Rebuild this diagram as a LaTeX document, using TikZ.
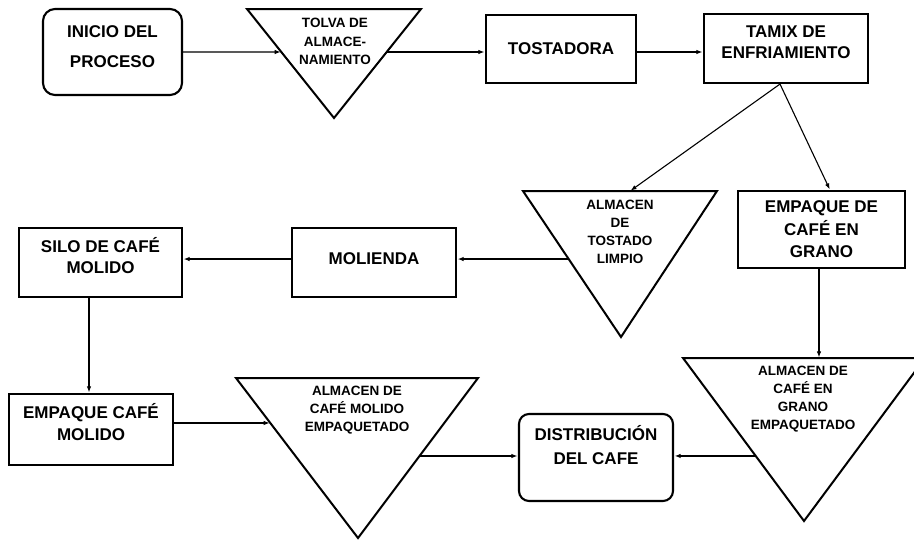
\documentclass[tikz,border=0pt]{standalone}
\usepackage{fontspec}
\setmainfont{Liberation Sans}
\usetikzlibrary{arrows.meta,calc}
\newcommand\lowdepth[1]{\rule[-#1]{0pt}{#1}}
\begin{document}
\begin{tikzpicture}[x=1pt,y=-1pt,
  box/.style={draw, line width=2.1pt, inner sep=0pt, align=center,
    font=\bfseries\fontsize{17}{21}\selectfont},
  tri/.style={draw, line width=2pt, line join=miter},
  tritext/.style={inner sep=0pt, align=center,
    font=\bfseries\fontsize{13.5}{18}\selectfont},
  arr/.style={line width=1.1pt, -{Latex[length=6pt,width=4.5pt]}, shorten >=0.6pt}]
\useasboundingbox (0,0) rectangle (914,539);
\clip (0,0) rectangle (914,539);
\fill[white] (0,0) rectangle (914,539);

% boxes
\node[box, rounded corners=12pt, minimum width=139pt, minimum height=86pt] (inicio) at (112.5,52)
  {INICIO DEL\\[9pt]PROCESO\lowdepth{10pt}};
\node[box, minimum width=150pt, minimum height=68pt] (tostadora) at (561,49) {TOSTADORA};
\node[box, minimum width=164pt, minimum height=69pt] (tamix) at (786,48.5)
  {TAMIX DE\\ENFRIAMIENTO\lowdepth{12pt}};
\node[box, minimum width=167pt, minimum height=77pt,
  font=\bfseries\fontsize{17}{22.5}\selectfont] (empG) at (821.5,229.5)
  {EMPAQUE DE\\CAFÉ EN\\GRANO};
\node[box, minimum width=163pt, minimum height=69pt] (silo) at (100.5,262.5)
  {SILO DE CAFÉ\\MOLIDO\lowdepth{14pt}};
\node[box, minimum width=164pt, minimum height=69pt] (molienda) at (374,262.5)
  {MOLIENDA\lowdepth{7pt}};
\node[box, minimum width=164pt, minimum height=71pt,
  font=\bfseries\fontsize{17}{22}\selectfont] (empM) at (91,429.5)
  {EMPAQUE CAFÉ\\MOLIDO\lowdepth{15pt}};
\node[box, rounded corners=10pt, minimum width=154pt, minimum height=87pt,
  font=\bfseries\fontsize{17}{24}\selectfont] (dist) at (596,457.5)
  {DISTRIBUCIÓN\\DEL CAFE\lowdepth{25pt}};

% triangles
\coordinate (tolL) at (247,9); \coordinate (tolR) at (421,9); \coordinate (tolA) at (334,118);
\draw[tri] (tolL) -- (tolR) -- (tolA) -- cycle;
\node[tritext, font=\bfseries\fontsize{13.5}{18.5}\selectfont] (tolvaT) at (335,41.5)
  {TOLVA DE\\ALMACE-\\NAMIENTO};

\coordinate (tosL) at (523,191); \coordinate (tosR) at (717,191); \coordinate (tosA) at (621,337);
\draw[tri] (tosL) -- (tosR) -- (tosA) -- cycle;
\node[tritext] (tostT) at (620,232) {ALMACEN\\DE\\TOSTADO\\LIMPIO};

\coordinate (molL) at (236,378); \coordinate (molR) at (478,378); \coordinate (molA) at (358,538);
\draw[tri] (molL) -- (molR) -- (molA) -- cycle;
\node[tritext] (molT) at (357,410) {ALMACEN DE\\CAFÉ MOLIDO\\EMPAQUETADO};

\coordinate (graL) at (683,358); \coordinate (graR) at (925,358); \coordinate (graA) at (804,521);
\draw[tri] (graL) -- (graR) -- (graA) -- cycle;
\node[tritext] (graT) at (803,399) {ALMACEN DE\\CAFÉ EN\\GRANO\\EMPAQUETADO};

% connectors
\coordinate (tolIn) at ($(tolL)!0.3945!(tolA)$);
\coordinate (tolOut) at ($(tolR)!0.3945!(tolA)$);
\draw[arr] (inicio.east) -- (tolIn);
\draw[arr] (tolOut) -- (tolOut -| tostadora.west);
\draw[arr] (tolOut -| tostadora.east) -- (tolOut -| tamix.west);

\coordinate (split) at ($(tamix.south)+(-6,0)$);
\coordinate (tosTop) at ($(tosL)!0.552!(tosR)$);
\coordinate (empGTop) at ($(empG.north)+(8.5,0)$);
\draw[arr] (split) -- (tosTop);
\draw[arr] (split) -- (empGTop);

\coordinate (tosIn) at ($(tosL)!0.466!(tosA)$);
\draw[arr] (tosIn) -- (tosIn -| molienda.east);
\draw[arr] (tosIn -| molienda.west) -- (tosIn -| silo.east);

\coordinate (siloOut) at ($(silo.south)+(-11.5,0)$);
\draw[arr] (siloOut) -- (siloOut |- empM.north);

\coordinate (molIn) at ($(molL)!0.281!(molA)$);
\draw[arr] (molIn -| empM.east) -- (molIn);
\coordinate (molOut) at ($(molR)!0.4875!(molA)$);
\draw[arr] (molOut) -- (molOut -| dist.west);
\coordinate (graIn) at ($(graL)!0.601!(graA)$);
\draw[arr] (graIn) -- (graIn -| dist.east);

\coordinate (empGOut) at ($(empG.south)+(-2.5,0)$);
\draw[arr] (empGOut) -- (empGOut |- graL);
\end{tikzpicture}
\end{document}
